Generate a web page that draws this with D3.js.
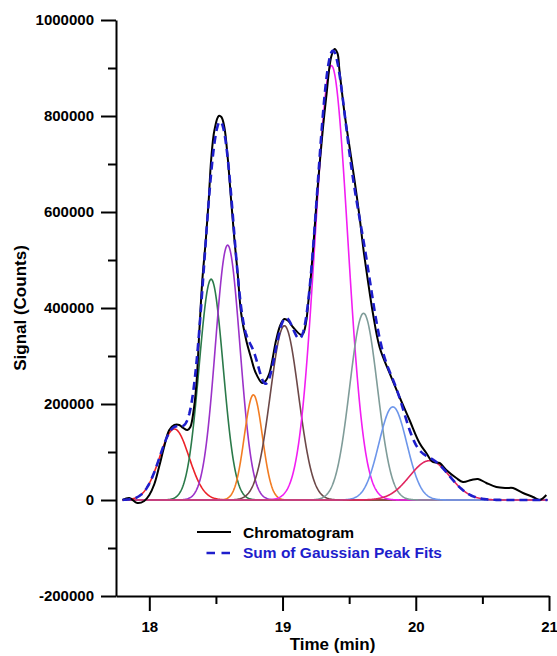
<!DOCTYPE html>
<html>
<head>
<meta charset="utf-8">
<script src="https://cdn.jsdelivr.net/npm/d3@7"></script>
<style>
  body { margin: 0; background: #fff; }
  svg { display: block; font-family: "Liberation Sans", Arial, sans-serif; font-weight: bold; }
</style>
</head>
<body>
<svg id="chart" width="557" height="656"></svg>
<script>
// Measured chromatogram: retention time (min) and detector signal (counts)
const chromTime = [17.80, 17.85, 17.91, 17.962, 18.00, 18.038, 18.075, 18.113, 18.15, 18.188,
  18.225, 18.255, 18.286, 18.308, 18.331, 18.353, 18.376, 18.398, 18.424, 18.446,
  18.464, 18.489, 18.521, 18.541, 18.563, 18.588, 18.614, 18.639, 18.663, 18.689,
  18.727, 18.764, 18.796, 18.847, 18.872, 18.902, 18.952, 18.984, 19.014, 19.044,
  19.077, 19.140, 19.157, 19.177, 19.195, 19.215, 19.240, 19.262, 19.302, 19.328,
  19.365, 19.390, 19.412, 19.427, 19.465, 19.503, 19.540, 19.578, 19.608, 19.640,
  19.678, 19.728, 19.803, 19.878, 19.953, 20.028, 20.079, 20.128, 20.179, 20.229,
  20.304, 20.354, 20.417, 20.467, 20.530, 20.605, 20.680, 20.730, 20.805, 20.880,
  20.930, 20.980];
const chromSignal = [0, 4200, -6300, -2100, 10400, 33300, 70800, 112500, 145800, 156300,
  156300, 150000, 145800, 152100, 183300, 239600, 354200, 458300, 541700, 625000,
  708300, 770800, 800000, 797900, 777100, 714600, 625000, 541700, 472900, 389600,
  333300, 295800, 266700, 243800, 247900, 264600, 333300, 364600, 377100, 372900,
  360400, 343800, 347900, 370800, 416700, 472900, 562500, 645800, 770800, 839600,
  922900, 939600, 931200, 895800, 806300, 735400, 666700, 589600, 520800, 458300,
  389600, 318800, 264600, 214600, 166700, 118800, 97900, 79200, 77100, 62500,
  45800, 37500, 41700, 43800, 35400, 27100, 25000, 25000, 14600, 6300,
  0, 10400];

// Fitted Gaussian peaks: centre (min), height (counts), standard deviation (min)
const peakCenter = [18.188, 18.464, 18.588, 18.781, 19.014, 19.367, 19.608, 19.828, 20.104];
const peakHeight = [148000, 460000, 531000, 219000, 363000, 905000, 389000, 194000, 82000];
const peakSigma  = [0.110, 0.090, 0.092, 0.068, 0.106, 0.122, 0.104, 0.105, 0.150];

// Axis ticks
const xTickValues = [18, 19, 20, 21];
const xTickLabels = ["18", "19", "20", "21"];
const xMinorTicks = [18.5, 19.5, 20.5];
const yTickValues = [-200000, 0, 200000, 400000, 600000, 800000, 1000000];
const yTickLabels = ["-200000", "0", "200000", "400000", "600000", "800000", "1000000"];
const yMinorTicks = [-100000, 100000, 300000, 500000, 700000, 900000];

const legendLabels = ["Chromatogram", "Sum of Gaussian Peak Fits"];
const xTitle = "Time (min)";
const yTitle = "Signal (Counts)";

// Styling
const peakPalette = ["#ec2228", "#2b7a4a", "#9b32c9", "#f27c22", "#6c4848",
                     "#f21ef2", "#7f9c99", "#6d96ea", "#e02660"];
const sumColor = "#1e1ecc";

const svg = d3.select("#chart");
const x = d3.scaleLinear().domain([17.75, 21]).range([116, 549]);
const y = d3.scaleLinear().domain([-200000, 1000000]).range([596, 20]);

const gauss = (t, i) =>
  peakHeight[i] * Math.exp(-0.5 * Math.pow((t - peakCenter[i]) / peakSigma[i], 2));

const grid = d3.range(17.8, 20.9901, 0.004);

const line = d3.line().x(d => x(d[0])).y(d => y(d[1]));

// Individual Gaussian components
const comps = svg.append("g").attr("fill", "none").attr("stroke-width", 1.6);
peakCenter.forEach((c, i) => {
  comps.append("path")
    .datum(grid.map(t => [t, gauss(t, i)]))
    .attr("stroke", peakPalette[i])
    .attr("d", line);
});

// Chromatogram
svg.append("path")
  .datum(chromTime.map((t, i) => [t, chromSignal[i]]))
  .attr("fill", "none")
  .attr("stroke", "#000")
  .attr("stroke-width", 2)
  .attr("d", d3.line().x(d => x(d[0])).y(d => y(d[1])).curve(d3.curveCatmullRom.alpha(0.5)));

// Sum of the fitted peaks
svg.append("path")
  .datum(grid.map(t => [t, d3.sum(peakCenter, (c, i) => gauss(t, i))]))
  .attr("fill", "none")
  .attr("stroke", sumColor)
  .attr("stroke-width", 2.6)
  .attr("stroke-dasharray", "8,5")
  .attr("d", line);

// Axes
function styleAxis(g) {
  g.attr("font-family", null).attr("font-size", null);
  g.selectAll("path, line").attr("stroke", "#000").attr("stroke-width", 2);
  g.selectAll("text").attr("fill", "#000").style("font-size", "15px");
}

svg.append("g")
  .attr("transform", "translate(0,596)")
  .call(d3.axisBottom(x).tickValues(xMinorTicks).tickSize(8).tickFormat(""))
  .call(g => g.select(".domain").remove())
  .call(styleAxis);
svg.append("g")
  .attr("transform", "translate(0,596)")
  .call(d3.axisBottom(x).tickValues(xTickValues)
        .tickFormat((d, i) => xTickLabels[i]).tickSize(15).tickSizeOuter(0).tickPadding(10))
  .call(styleAxis);

svg.append("g")
  .attr("transform", "translate(116,0)")
  .call(d3.axisLeft(y).tickValues(yMinorTicks).tickSize(8).tickFormat(""))
  .call(g => g.select(".domain").remove())
  .call(styleAxis);
svg.append("g")
  .attr("transform", "translate(116,0)")
  .call(d3.axisLeft(y).tickValues(yTickValues)
        .tickFormat((d, i) => yTickLabels[i]).tickSize(15).tickSizeOuter(0).tickPadding(7))
  .call(styleAxis);

// Axis titles
svg.append("text")
  .attr("x", 332.5).attr("y", 650)
  .attr("text-anchor", "middle")
  .style("font-size", "17px")
  .text(xTitle);
svg.append("text")
  .attr("transform", "translate(26,308) rotate(-90)")
  .attr("text-anchor", "middle")
  .style("font-size", "17px")
  .text(yTitle);

// Legend
const legend = svg.append("g");
legend.append("line")
  .attr("x1", 197).attr("x2", 231).attr("y1", 532).attr("y2", 532)
  .attr("stroke", "#000").attr("stroke-width", 2);
legend.append("text")
  .attr("x", 243).attr("y", 537.5)
  .style("font-size", "15.5px").attr("fill", "#000")
  .text(legendLabels[0]);
legend.append("line")
  .attr("x1", 206.5).attr("x2", 230.5).attr("y1", 553).attr("y2", 553)
  .attr("stroke", sumColor).attr("stroke-width", 2.6).attr("stroke-dasharray", "8.5,6.5");
legend.append("text")
  .attr("x", 243).attr("y", 557.5)
  .style("font-size", "15.5px").attr("fill", sumColor)
  .text(legendLabels[1]);
</script>
</body>
</html>
